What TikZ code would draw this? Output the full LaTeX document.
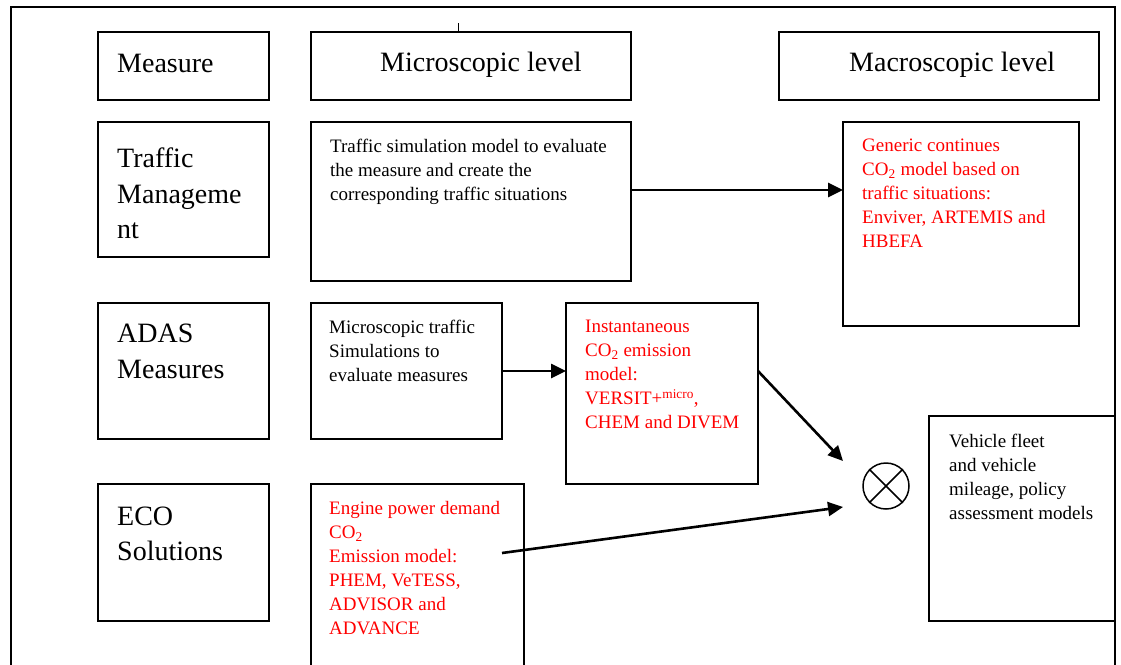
\documentclass[tikz,border=0pt]{standalone}
\usepackage{fontspec}
\setmainfont{Liberation Serif}
\usetikzlibrary{arrows.meta, positioning}

\begin{document}
\begin{tikzpicture}[x=1pt, y=-1pt,
  box/.style={draw, line width=1.5pt, inner sep=0pt, outer sep=0pt, anchor=north west},
  lbl/.style={inner sep=0pt, align=left, font=\fontsize{28}{35.5}\selectfont},
  txt/.style={inner sep=0pt, align=left, font=\fontsize{19}{24}\selectfont},
  redtxt/.style={txt, text=red},
  arr/.style={line width=2.6pt, -{Triangle[length=15pt,width=14pt]}}]
\path[use as bounding box, clip] (0,0) rectangle (1121,664);

% outer frame, open at the bottom
\draw[line width=2pt] (11,690) -- (11,7) -- (1115,7) -- (1115,690);
\draw[line width=1pt] (458,23) -- (458,32);

% header row
\node[box, minimum width=171, minimum height=68] (meas) at (98,32) {};
\node[box, minimum width=320, minimum height=68] (micro) at (311,32) {};
\node[box, minimum width=320, minimum height=68] (macro) at (779,32) {};
\node[lbl, below right=21.5pt and 19pt of meas.north west] (meas-t) {Measure};
\node[lbl, below right=20pt and 69pt of micro.north west] (micro-t) {Microscopic level};
\node[lbl, below right=20pt and 70pt of macro.north west] (macro-t) {Macroscopic level};

% measures
\node[box, minimum width=171, minimum height=135] (tm) at (98,122) {};
\node[box, minimum width=171, minimum height=136] (adas) at (98,303) {};
\node[box, minimum width=171, minimum height=137] (eco) at (98,484) {};
\node[lbl, below right=26pt and 19pt of tm.north west] (tm-t) {Traffic\\Manageme\\nt};
\node[lbl, below right=21pt and 19pt of adas.north west] (adas-t) {ADAS\\Measures};
\node[lbl, below right=22.5pt and 19pt of eco.north west] (eco-t) {ECO\\Solutions};

% microscopic level
\node[box, minimum width=320, minimum height=159] (tsim) at (311,122) {};
\node[box, minimum width=191, minimum height=136] (mts) at (311,303) {};
\node[box, minimum width=192, minimum height=181] (inst) at (566,303) {};
\node[box, minimum width=213, minimum height=210] (engine) at (311,484) {};
\node[txt, below right=17pt and 19pt of tsim.north west] (tsim-t)
  {Traffic simulation model to evaluate\\the measure and create the\\corresponding traffic situations};
\node[txt, below right=17pt and 18pt of mts.north west] (mts-t)
  {Microscopic traffic\\Simulations to\\evaluate measures};
\node[redtxt, below right=17pt and 19pt of inst.north west] (inst-t)
  {Instantaneous\\CO\textsubscript{2} emission\\model:\\VERSIT+\textsuperscript{micro},\\CHEM and DIVEM};
\node[redtxt, below right=17pt and 18pt of engine.north west] (engine-t)
  {Engine power demand\\CO\textsubscript{2}\\Emission model:\\PHEM, VeTESS,\\ADVISOR and\\ADVANCE};

% macroscopic level
\node[box, minimum width=236, minimum height=204] (generic) at (843,122) {};
\node[box, minimum width=186, minimum height=205] (fleet) at (929,416) {};
\node[redtxt, below right=17pt and 19pt of generic.north west] (generic-t)
  {Generic continues\\CO\textsubscript{2} model based on\\traffic situations:\\Enviver, ARTEMIS and\\HBEFA};
\node[txt, below right=18pt and 20pt of fleet.north west] (fleet-t)
  {Vehicle fleet\\and vehicle\\mileage, policy\\assessment models};

% combination
\node[draw, circle, line width=1.5pt, minimum size=46, inner sep=0pt] (mult) at (886,486) {};
\draw[line width=1.5pt] (mult.north west) -- (mult.south east);
\draw[line width=1.5pt] (mult.north east) -- (mult.south west);
\coordinate (mtip) at (843,461);
\coordinate (etip) at (843,507);
\coordinate (eout) at (502,553);

% connectors
\draw[arr] ([yshift=11.5pt]tsim.east) -- ([yshift=11.5pt]tsim.east -| generic.west);
\draw[arr] (mts.east) -- (mts.east -| inst.west);
\draw[arr] (mts.east -| inst.east) -- (mtip);
\draw[arr] (eout) -- (etip);
\end{tikzpicture}
\end{document}
